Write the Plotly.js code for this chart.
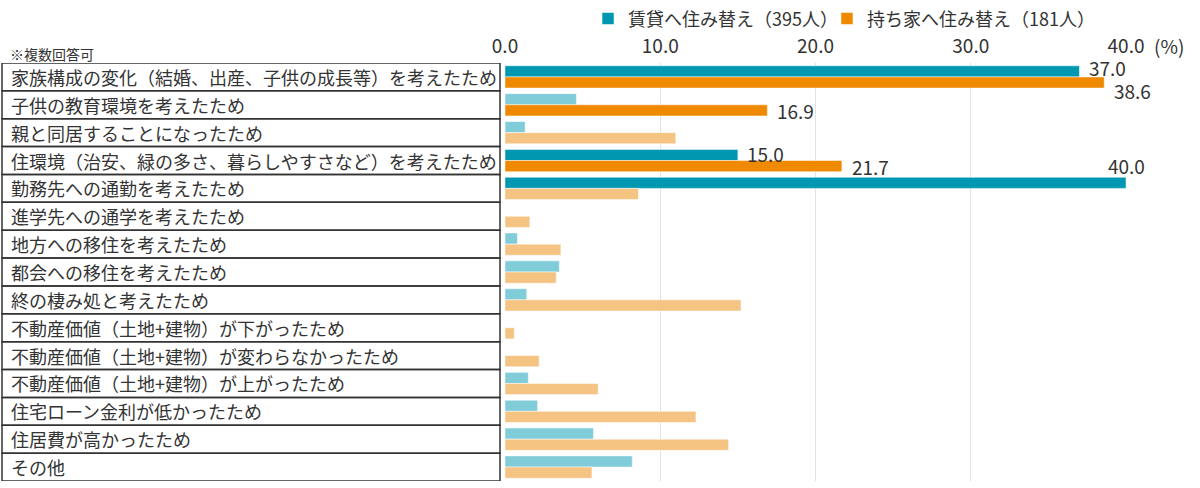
<!DOCTYPE html>
<html>
<head>
<meta charset="utf-8">
<script src="https://cdn.plot.ly/plotly-3.0.1.min.js"></script>
<style>
html,body{margin:0;padding:0;background:#fff;}
#chart{width:1200px;height:488px;}
</style>
</head>
<body>
<div id="chart"></div>
<script>
// ---- data ----
const categories = [
  "家族構成の変化（結婚、出産、子供の成長等）を考えたため",
  "子供の教育環境を考えたため",
  "親と同居することになったため",
  "住環境（治安、緑の多さ、暮らしやすさなど）を考えたため",
  "勤務先への通勤を考えたため",
  "進学先への通学を考えたため",
  "地方への移住を考えたため",
  "都会への移住を考えたため",
  "終の棲み処と考えたため",
  "不動産価値（土地+建物）が下がったため",
  "不動産価値（土地+建物）が変わらなかったため",
  "不動産価値（土地+建物）が上がったため",
  "住宅ローン金利が低かったため",
  "住居費が高かったため",
  "その他"
];
const seriesNames = ["賃貸へ住み替え（395人）", "持ち家へ住み替え（181人）"];
const rentValues = [37.0, 4.6, 1.3, 15.0, 40.0, 0, 0.8, 3.5, 1.4, 0, 0, 1.5, 2.1, 5.7, 8.2];
const ownValues  = [38.6, 16.9, 11.0, 21.7, 8.6, 1.6, 3.6, 3.3, 15.2, 0.6, 2.2, 6.0, 12.3, 14.4, 5.6];
const rentHighlighted = [0, 3, 4];
const ownHighlighted  = [0, 1, 3];
const tickValues = [0, 10, 20, 30, 40];
const tickLabels = ["0.0", "10.0", "20.0", "30.0", "40.0"];
const note = "※複数回答可";
const unitLabel = "(%)";

// ---- style ----
const FONT = '"Noto Sans CJK JP", "Noto Sans", sans-serif';
const TXT = '#333333';
const rentDark = '#0098B1', rentLight = '#80CCD9';
const ownDark = '#EF8A00', ownLight = '#F5C382';
const L = 505, R = 74, T = 63, B = 7;

// label placement style: [series, categoryIndex, xanchor, xshift, yshift]
const labelStyle = [
  ['rent', 0, 'left', 8, 4],
  ['own', 0, 'left', 8, -8],
  ['own', 1, 'left', 8, 0],
  ['rent', 3, 'left', 7, 1],
  ['own', 3, 'left', 8, 0],
  ['rent', 4, 'center', 0, 17]
];

const rentColors = rentValues.map((v, i) => rentHighlighted.includes(i) ? rentDark : rentLight);
const ownColors = ownValues.map((v, i) => ownHighlighted.includes(i) ? ownDark : ownLight);

const traces = [
  {
    type: 'bar', orientation: 'h', name: seriesNames[0], legend: 'legend',
    y: categories, x: rentValues,
    marker: {color: rentColors, line: {color: 'rgba(255,255,255,0.5)', width: 1}},
    hoverinfo: 'x'
  },
  {
    type: 'bar', orientation: 'h', name: seriesNames[1], legend: 'legend2',
    y: categories, x: ownValues,
    marker: {color: ownColors, line: {color: 'rgba(255,255,255,0.5)', width: 1}},
    hoverinfo: 'x'
  }
];

const annotations = [];
// category labels (left-aligned in box)
categories.forEach((c, i) => {
  annotations.push({
    xref: 'paper', yref: 'y', x: 0, y: i, xshift: -(L - 9), xanchor: 'left', yanchor: 'middle',
    text: c, showarrow: false, font: {family: FONT, size: 18, color: TXT}
  });
});
// value labels
labelStyle.forEach(([s, idx, xa, xs, ys]) => {
  const v = s === 'rent' ? rentValues[idx] : ownValues[idx];
  const yy = s === 'rent' ? idx - 0.2 : idx + 0.2;
  annotations.push({
    xref: 'x', yref: 'y', x: v, y: yy, xanchor: xa, yanchor: 'middle', xshift: xs, yshift: ys,
    text: v.toFixed(1), showarrow: false, font: {family: FONT, size: 19, color: TXT}
  });
});
// note
annotations.push({
  xref: 'paper', yref: 'paper', x: 0, y: 1, xshift: -(L - 8), yshift: 9, xanchor: 'left', yanchor: 'middle',
  text: note, showarrow: false, font: {family: FONT, size: 14, color: TXT}
});
// unit
annotations.push({
  xref: 'paper', yref: 'paper', x: 1, y: 1, xshift: 26, yshift: 18, xanchor: 'left', yanchor: 'middle',
  text: unitLabel, showarrow: false, font: {family: FONT, size: 19, color: TXT}
});

// label box shapes
const shapes = categories.map((c, i) => ({
  type: 'rect', xref: 'paper', yref: 'y', xsizemode: 'pixel', xanchor: 0,
  x0: -(L - 2), x1: -5, y0: i - 0.5, y1: i + 0.5,
  line: {color: '#333333', width: 1.5}, fillcolor: 'rgba(0,0,0,0)', layer: 'above'
}));

const legendBase = {
  orientation: 'h', y: 1.15, yanchor: 'top', xanchor: 'left',
  font: {family: FONT, size: 18, color: TXT},
  bgcolor: 'rgba(0,0,0,0)', itemclick: false
};

const layout = {
  width: 1200, height: 488,
  margin: {l: L, r: R, t: T, b: B, pad: 0, autoexpand: false},
  paper_bgcolor: '#ffffff', plot_bgcolor: '#ffffff',
  font: {family: FONT, color: TXT},
  barmode: 'group', bargap: 0.2, bargroupgap: 0,
  showlegend: true,
  legend: Object.assign({}, legendBase, {x: 0.1337}),
  legend2: Object.assign({}, legendBase, {x: 0.5185}),
  xaxis: {
    side: 'top', range: [0, 40], tickvals: tickValues, ticktext: tickLabels,
    showgrid: true, gridcolor: '#e2e2e2', gridwidth: 1, zeroline: false,
    showline: false, ticks: '', ticklabelstandoff: 5,
    tickfont: {family: FONT, size: 19, color: TXT},
    automargin: false, fixedrange: true
  },
  yaxis: {
    type: 'category', range: [categories.length - 0.5, -0.5], showticklabels: false, showgrid: false,
    zeroline: false, showline: false, ticks: '', automargin: false, fixedrange: true
  },
  annotations: annotations,
  shapes: shapes
};

Plotly.newPlot('chart', traces, layout, {displayModeBar: false, staticPlot: true});
</script>
</body>
</html>
